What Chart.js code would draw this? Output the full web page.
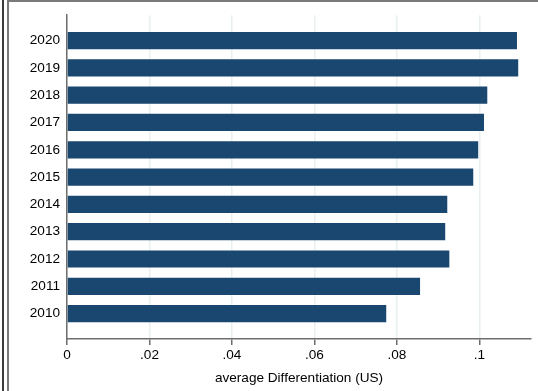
<!DOCTYPE html>
<html>
<head>
<meta charset="utf-8">
<script src="https://cdn.jsdelivr.net/npm/chart.js@4/dist/chart.umd.min.js"></script>
<style>
  html, body { margin: 0; padding: 0; background: #fff; }
  #wrap { position: relative; width: 538px; height: 391px; overflow: hidden; }
  #chartBar { position: absolute; left: 0; top: 0; }
  .edge { position: absolute; }
  #edgeOuter { left: 2px; top: 0; width: 2px; height: 391px; background: #3c3c3c; }
  #edgeInner { left: 7px; top: 0; width: 540px; height: 400px;
               border-left: 2px solid #7a7a7a; border-top: 2px solid #7a7a7a; }
</style>
</head>
<body>
<div id="wrap">
  <canvas id="chartBar" width="538" height="391"></canvas>
  <div class="edge" id="edgeOuter"></div>
  <div class="edge" id="edgeInner"></div>
</div>
<script>

const years = ['2020', '2019', '2018', '2017', '2016', '2015', '2014', '2013', '2012', '2011', '2010'];
const avgDiff = [0.1091, 0.1094, 0.1019, 0.1011, 0.0997, 0.0985, 0.0922, 0.0917, 0.0927, 0.0856, 0.0774];
const xTicks = [0, 0.02, 0.04, 0.06, 0.08, 0.1];
const xTickLabels = ['0', '.02', '.04', '.06', '.08', '.1'];

const axisGrey = '#6e6e6e';
const font = { family: '"Liberation Sans", Arial, Helvetica, sans-serif', size: 13.6 };

const data = {
    datasets: [{
        label: 'average Differentiation (US)',
        data: avgDiff.map((v, i) => ({ x: v, y: i })),
        backgroundColor: '#1a476f',
        borderWidth: 0,
        barPercentage: 0.63,
        categoryPercentage: 1
    }]
};

const configBar = {
    type: 'bar',
    data,
    options: {
        indexAxis: 'y',
        responsive: false,
        animation: false,
        layout: { padding: { left: 0, top: 14, right: 7, bottom: 0 } },
        plugins: {
            legend: { display: false },
            tooltip: { enabled: false }
        },
        scales: {
            x: {
                type: 'linear',
                min: 0,
                max: 0.1125,
                afterBuildTicks: scale => { scale.ticks = xTicks.map(v => ({ value: v })); },
                afterFit: scale => { scale.height = 52; },
                ticks: {
                    color: '#000',
                    font,
                    padding: 2,
                    maxRotation: 0,
                    callback: (v, i) => xTickLabels[i]
                },
                grid: {
                    color: '#e9f0f2',
                    lineWidth: 1.5,
                    tickColor: axisGrey,
                    tickWidth: 1.5,
                    tickLength: 6
                },
                border: { color: axisGrey, width: 1.5 },
                title: {
                    display: true,
                    text: 'average Differentiation (US)',
                    color: '#000',
                    font,
                    padding: { top: 0, bottom: 5 }
                }
            },
            y: {
                type: 'linear',
                reverse: true,
                offset: false,
                min: -0.93,
                max: 10.93,
                afterBuildTicks: scale => { scale.ticks = years.map((_, i) => ({ value: i })); },
                afterFit: scale => { scale.width = 67; },
                ticks: {
                    color: '#000',
                    font,
                    padding: 7,
                    autoSkip: false,
                    callback: (v, i) => years[i]
                },
                grid: { display: false, drawTicks: false },
                border: { color: axisGrey, width: 1.5 }
            }
        }
    }
};

var chartBar = new Chart(
    document.getElementById('chartBar'),
    configBar
);
</script>
</body>
</html>
